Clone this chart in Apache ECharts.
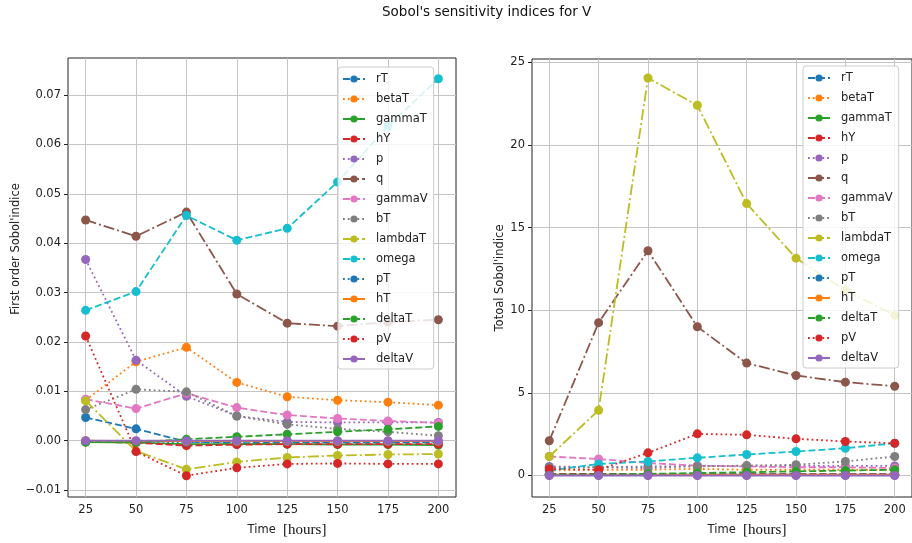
<!DOCTYPE html>
<html>
<head>
<meta charset="utf-8">
<script src="https://cdn.jsdelivr.net/npm/echarts@6/dist/echarts.min.js"></script>
<style>
html,body{margin:0;padding:0;background:#fff;}
#chart{width:912px;height:543px;}
</style>
</head>
<body>
<div id="chart"></div>
<script>
// ---------- data ----------
const times = [25, 50, 75, 100, 125, 150, 175, 200];
const xTicks = [25, 50, 75, 100, 125, 150, 175, 200];
const yTicksFirst = [-0.01, 0.00, 0.01, 0.02, 0.03, 0.04, 0.05, 0.06, 0.07];
const yTicksTotal = [0, 5, 10, 15, 20, 25];

const seriesNames = ['rT','betaT','gammaT','hY','p','q','gammaV','bT','lambdaT','omega','pT','hT','deltaT','pV','deltaV'];

// First order Sobol indices
const firstRT      = [0.0047, 0.0024, -0.0002, -0.0005, -0.0004, -0.0004, -0.0004, -0.0004];
const firstBetaT   = [0.0082, 0.0160, 0.0189, 0.0118, 0.0089, 0.0082, 0.0078, 0.0072];
const firstGammaT  = [-0.0003, -0.0004, -0.0007, -0.0007, -0.0007, -0.0008, -0.0008, -0.0009];
const firstHY      = [-0.0002, -0.0004, -0.0010, -0.0008, -0.0007, -0.0007, -0.0007, -0.0007];
const firstP       = [0.0367, 0.0163, 0.0090, 0.0050, 0.0038, 0.0037, 0.0037, 0.0037];
const firstQ       = [0.0447, 0.0414, 0.0463, 0.0297, 0.0238, 0.0232, 0.0240, 0.0245];
const firstGammaV  = [0.0084, 0.0065, 0.0096, 0.0067, 0.0052, 0.0045, 0.0040, 0.0036];
const firstBT      = [0.0063, 0.0104, 0.0099, 0.0050, 0.0033, 0.0024, 0.0018, 0.0010];
const firstLambdaT = [0.0081, -0.0021, -0.0058, -0.0043, -0.0034, -0.0030, -0.0028, -0.0027];
const firstOmega   = [0.0264, 0.0302, 0.0456, 0.0406, 0.0430, 0.0524, 0.0637, 0.0733];
const firstPT      = [-0.0001, -0.0002, -0.0003, -0.0002, -0.0002, -0.0002, -0.0002, -0.0002];
const firstHT      = [0.0000, -0.0001, -0.0001, -0.0001, -0.0001, -0.0001, -0.0001, -0.0001];
const firstDeltaT  = [-0.0003, -0.0003, 0.0003, 0.0008, 0.0013, 0.0018, 0.0023, 0.0029];
const firstPV      = [0.0212, -0.0022, -0.0071, -0.0055, -0.0047, -0.0046, -0.0047, -0.0047];
const firstDeltaV  = [0.0000, 0.0000, 0.0000, 0.0000, 0.0000, 0.0000, 0.0000, 0.0000];

// Total Sobol indices
const totalRT      = [0.10, 0.10, 0.08, 0.08, 0.08, 0.08, 0.08, 0.08];
const totalBetaT   = [0.30, 0.35, 0.35, 0.40, 0.35, 0.35, 0.35, 0.35];
const totalGammaT  = [0.05, 0.05, 0.05, 0.05, 0.05, 0.05, 0.05, 0.05];
const totalHY      = [0.08, 0.08, 0.06, 0.06, 0.06, 0.06, 0.06, 0.06];
const totalP       = [0.55, 0.50, 0.45, 0.58, 0.58, 0.58, 0.58, 0.58];
const totalQ       = [2.10, 9.25, 13.60, 9.00, 6.80, 6.05, 5.65, 5.40];
const totalGammaV  = [1.15, 1.00, 0.75, 0.60, 0.55, 0.50, 0.50, 0.45];
const totalBT      = [0.50, 0.50, 0.55, 0.55, 0.60, 0.65, 0.85, 1.15];
const totalLambdaT = [1.15, 3.95, 24.05, 22.40, 16.45, 13.15, 11.20, 9.70];
const totalOmega   = [0.30, 0.70, 0.85, 1.07, 1.27, 1.45, 1.65, 1.95];
const totalPT      = [0.02, 0.02, 0.02, 0.02, 0.02, 0.02, 0.02, 0.02];
const totalHT      = [0.03, 0.03, 0.03, 0.03, 0.03, 0.03, 0.03, 0.03];
const totalDeltaT  = [0.05, 0.05, 0.10, 0.15, 0.20, 0.25, 0.30, 0.35];
const totalPV      = [0.40, 0.35, 1.37, 2.52, 2.46, 2.22, 2.06, 1.95];
const totalDeltaV  = [0.00, 0.00, 0.00, 0.00, 0.00, 0.00, 0.00, 0.00];

const firstAll = [firstRT, firstBetaT, firstGammaT, firstHY, firstP, firstQ, firstGammaV, firstBT, firstLambdaT, firstOmega, firstPT, firstHT, firstDeltaT, firstPV, firstDeltaV];
const totalAll = [totalRT, totalBetaT, totalGammaT, totalHY, totalP, totalQ, totalGammaV, totalBT, totalLambdaT, totalOmega, totalPT, totalHT, totalDeltaT, totalPV, totalDeltaV];

// ---------- styling ----------
const colors = ['#1f77b4','#ff7f0e','#2ca02c','#d62728','#9467bd','#8c564b','#e377c2','#7f7f7f','#bcbd22','#17becf','#1f77b4','#ff7f0e','#2ca02c','#d62728','#9467bd'];
const LW = 1.8;
const DASH = [7, 3];
const DOT = [1.8, 3];
const DASHDOT = [11, 3, 2, 3];
const lineTypes = [DASH, DOT, 'solid', DASH, DOT, DASHDOT, DASH, DOT, DASHDOT, DASH, DOT, 'solid', DASH, DOT, 'solid'];

const FONT = 'DejaVu Sans';
const pair = (ys) => times.map((t, i) => [t, ys[i]]);

function makeSeries(all, axisIdx) {
  return seriesNames.map((name, k) => ({
    name: name,
    type: 'line',
    xAxisIndex: axisIdx,
    yAxisIndex: axisIdx,
    data: pair(all[k]),
    symbol: 'circle',
    symbolSize: 9,
    showSymbol: true,
    animation: false,
    color: colors[k],
    lineStyle: { width: LW, type: lineTypes[k], color: colors[k] },
    itemStyle: { color: colors[k] },
    emphasis: { disabled: true },
    z: 2 + k * 0.01
  }));
}

const legendBase = {
  orient: 'vertical',
  itemWidth: 22,
  itemHeight: 9,
  itemGap: 6,
  padding: [5, 6, 3, 4],
  backgroundColor: 'rgba(255,255,255,0.82)',
  borderColor: '#cccccc',
  borderWidth: 1,
  borderRadius: 3,
  textStyle: { fontFamily: FONT, fontSize: 11.5, color: '#222', padding: [0, 0, 0, 6], lineHeight: 14 },
  selectedMode: false,
  data: seriesNames
};

function xAxisCfg(gridIndex) {
  return {
    type: 'value',
    gridIndex: gridIndex,
    min: 16.25,
    max: 208.75,
    axisLine: { show: false },
    axisTick: { show: true, inside: false, length: 4, lineStyle: { color: '#222' }, customValues: xTicks },
    axisLabel: { show: true, customValues: xTicks, fontFamily: FONT, fontSize: 11.5, color: '#222', margin: 7 },
    splitLine: { show: true, lineStyle: { color: '#c4c4c4', width: 1 } },
    name: '{a|Time  }{b|[hours]}',
    nameLocation: 'middle',
    nameGap: 26,
    nameTextStyle: {
      padding: [0, 0, 0, 50],
      rich: {
        a: { fontFamily: FONT, fontSize: 11.5, color: '#222' },
        b: { fontFamily: 'Liberation Serif', fontSize: 15, color: '#111' }
      }
    }
  };
}

const option = {
  backgroundColor: '#ffffff',
  animation: false,
  title: {
    text: "Sobol's sensitivity indices for V",
    left: 377,
    top: 0,
    textStyle: { fontFamily: FONT, fontSize: 13.5, fontWeight: 'normal', color: '#111' }
  },
  grid: [
    { left: 68, top: 58, width: 388, height: 439, show: true, borderColor: '#222', borderWidth: 1, backgroundColor: 'transparent' },
    { left: 532, top: 59, width: 387, height: 438, show: true, borderColor: '#222', borderWidth: 1, backgroundColor: 'transparent' }
  ],
  xAxis: [xAxisCfg(0), xAxisCfg(1)],
  yAxis: [
    {
      type: 'value',
      gridIndex: 0,
      min: -0.0114,
      max: 0.0775,
      axisLine: { show: false },
      axisTick: { show: true, length: 4, lineStyle: { color: '#222' }, customValues: yTicksFirst },
      axisLabel: {
        customValues: yTicksFirst, fontFamily: FONT, fontSize: 11.5, color: '#222', margin: 7,
        formatter: v => (v < -1e-9 ? '\u2212' + Math.abs(v).toFixed(2) : Math.abs(v).toFixed(2))
      },
      splitLine: { show: true, lineStyle: { color: '#c4c4c4', width: 1 } },
      name: "First order Sobol'indice",
      nameLocation: 'middle',
      nameRotate: 90,
      nameGap: 46,
      nameTextStyle: { fontFamily: FONT, fontSize: 11.5, color: '#222', padding: [0, 0, 0, 57] }
    },
    {
      type: 'value',
      gridIndex: 1,
      min: -1.3,
      max: 25.2,
      axisLine: { show: false },
      axisTick: { show: true, length: 4, lineStyle: { color: '#222' }, customValues: yTicksTotal },
      axisLabel: { customValues: yTicksTotal, fontFamily: FONT, fontSize: 11.5, color: '#222', margin: 7 },
      splitLine: { show: true, lineStyle: { color: '#c4c4c4', width: 1 } },
      name: "Totoal Sobol'indice",
      nameLocation: 'middle',
      nameRotate: 90,
      nameGap: 25,
      nameTextStyle: { fontFamily: FONT, fontSize: 11.5, color: '#222' }
    }
  ],
  legend: [
    Object.assign({}, legendBase, { left: 338, top: 67 }),
    Object.assign({}, legendBase, { left: 803, top: 66 })
  ],
  series: makeSeries(firstAll, 0).concat(makeSeries(totalAll, 1))
};

const chart = echarts.init(document.getElementById('chart'), null, { renderer: 'canvas' });
chart.setOption(option);
</script>
</body>
</html>
